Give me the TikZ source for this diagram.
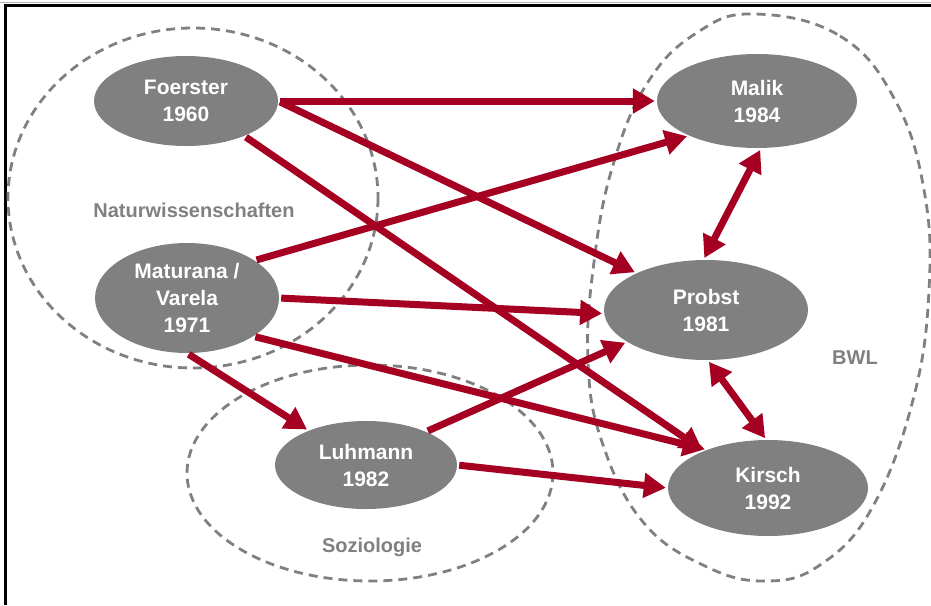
\documentclass[tikz,border=0pt]{standalone}
\usepackage{fontspec}
\setmainfont{Liberation Sans}
\usetikzlibrary{arrows.meta,shapes.geometric}
\definecolor{arr}{HTML}{A50021}
\definecolor{ngray}{HTML}{808080}
\tikzset{
  person/.style={ellipse, fill=ngray, draw=none, inner sep=0pt, text=white,
    align=center, font=\bfseries\fontsize{21}{27}\selectfont},
  field/.style={draw=ngray, line width=2.8pt, dash pattern=on 9pt off 6pt},
  fieldlabel/.style={text=ngray, font=\bfseries\fontsize{20}{24}\selectfont},
  link/.style={draw=arr, line width=7pt, -{Triangle[length=22pt,width=24pt]}, shorten >=2pt, shorten <=2pt},
  both/.style={draw=arr, line width=7pt, {Triangle[length=22pt,width=24pt]}-{Triangle[length=22pt,width=24pt]}, shorten >=2pt, shorten <=2pt}
}
\begin{document}
\begin{tikzpicture}[x=1pt,y=-1pt]
\useasboundingbox (0,0) rectangle (931,605);
% frame
\draw[ngray!60, line width=1pt] (0,2) -- (931,2);
\draw[black, line width=2.5pt] (931,5.5) -- (5.5,5.5) -- (5.5,605);
% fields
\draw[field] (193,198) ellipse [x radius=185, y radius=170];
\draw[field] (370,473) ellipse [x radius=183, y radius=108];
\draw[field] plot[smooth cycle, tension=0.7] coordinates {(755,14) (840,36) (895,100) (924,190) (929,290) (913,400) (872,508) (820,565) (765,581) (705,566) (643,522) (602,442) (588,360) (594,262) (613,165) (648,82) (698,32)};
\node[fieldlabel] (lnat) at (194,210) {Naturwissenschaften};
\node[fieldlabel] (lsoz) at (372,547) {Soziologie};
\node[fieldlabel] (lbwl) at (855,358) {BWL};
% persons
\node[person, minimum width=184pt, minimum height=90pt] (foerster) at (186,101) {Foerster\\1960};
\node[person, minimum width=184pt, minimum height=110pt] (maturana) at (187,298) {Maturana /\\Varela\\1971};
\node[person, minimum width=182pt, minimum height=88pt] (luhmann) at (366,465) {Luhmann\\1982};
\node[person, minimum width=200pt, minimum height=94pt] (malik) at (757,101) {Malik\\1984};
\node[person, minimum width=204pt, minimum height=100pt] (probst) at (706,310) {Probst\\1981};
\node[person, minimum width=200pt, minimum height=96pt] (kirsch) at (768,488) {Kirsch\\1992};
% connectors
\draw[link] (foerster.east) -- (malik.west);
\draw[link] (foerster.east) -- (probst.152);
\draw[link] (foerster.-31) -- (kirsch.150);
\draw[link] (maturana.29) -- (malik.207);
\draw[link] (maturana.east) -- (probst.182);
\draw[link] (maturana.-30) -- (kirsch.148);
\draw[link] (maturana.south) -- (luhmann.149);
\draw[link] (luhmann.29) -- (probst.202);
\draw[link] (luhmann.east) -- (kirsch.west);
\draw[both] (malik.-85) -- (probst.93);
\draw[both] (probst.-88) -- (kirsch.92);
\end{tikzpicture}
\end{document}
